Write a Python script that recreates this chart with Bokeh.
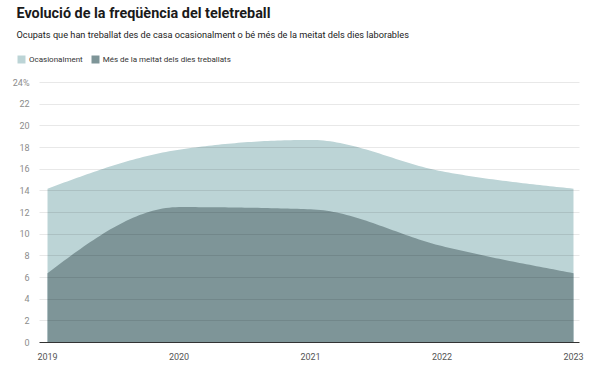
import numpy as np
from bokeh.plotting import figure
from bokeh.layouts import column, row
from bokeh.models import Legend, LegendItem, FixedTicker, Title
from bokeh.embed import file_html
from bokeh.resources import INLINE

years = [2019, 2020, 2021, 2022, 2023]
mes_meitat = [6.4, 12.5, 12.3, 8.9, 6.4]      # Més de la meitat dels dies treballats
ocasional = [7.8, 5.3, 6.4, 6.9, 7.8]          # Ocasionalment (stacked on top)
y_ticks = [0, 2, 4, 6, 8, 10, 12, 14, 16, 18, 20, 22, 24]

title = "Evolució de la freqüència del teletreball"
subtitle = "Ocupats que han treballat des de casa ocasionalment o bé més de la meitat dels dies laborables"
legend_labels = ["Ocasionalment", "Més de la meitat dels dies treballats"]

LIGHT = "#bcd4d6"
DARK = "#7e9598"
FONT = "Roboto"


def monotone(xs, ys, n=40):
    xs = np.asarray(xs, float); ys = np.asarray(ys, float)
    h = np.diff(xs); s = np.diff(ys) / h
    m = np.zeros(len(xs))
    for i in range(1, len(xs) - 1):
        p = (s[i - 1] * h[i] + s[i] * h[i - 1]) / (h[i - 1] + h[i])
        m[i] = (np.sign(s[i - 1]) + np.sign(s[i])) * min(abs(s[i - 1]), abs(s[i]), 0.5 * abs(p))
    m[0] = (3 * s[0] - m[1]) / 2
    m[-1] = (3 * s[-1] - m[-2]) / 2
    ox, oy = [], []
    for i in range(len(xs) - 1):
        t = np.linspace(0, 1, n, endpoint=(i == len(xs) - 2))
        h00 = 2 * t**3 - 3 * t**2 + 1
        h10 = t**3 - 2 * t**2 + t
        h01 = -2 * t**3 + 3 * t**2
        h11 = t**3 - t**2
        ox.extend(xs[i] + t * h[i])
        oy.extend(h00 * ys[i] + h10 * h[i] * m[i] + h01 * ys[i + 1] + h11 * h[i] * m[i + 1])
    return np.array(ox), np.array(oy)


total = [a + b for a, b in zip(mes_meitat, ocasional)]
xs_t, ys_t = monotone(years, total)
xs_d, ys_d = monotone(years, mes_meitat)

LEFT = 39
RIGHT = 16

# ---------------- header (title, subtitle, legend) ----------------
HEADER_H = 70
head = figure(width=595, height=HEADER_H, output_backend="svg", toolbar_location=None,
              x_axis_location=None, y_axis_location=None,
              x_range=(0, 1), y_range=(0, 1),
              min_border_left=0, min_border_right=0, min_border_top=0, min_border_bottom=0)
head.outline_line_color = None
head.grid.visible = False
head.background_fill_color = "white"
head.border_fill_color = "white"

# legend swatches only (placed outside the visible range)
h_light = head.varea(x=[2, 3], y1=[0, 0], y2=[1, 1], fill_color=LIGHT)
h_dark = head.varea(x=[2, 3], y1=[0, 0], y2=[1, 1], fill_color=DARK)

head.add_layout(Title(text=subtitle, text_font=FONT, text_font_size="9.2px",
                      text_font_style="normal", text_color="#222222",
                      align="left", offset=16, standoff=6), "above")
head.add_layout(Title(text=title, text_font=FONT, text_font_size="14.4px",
                      text_font_style="bold", text_color="#1a1a1a",
                      align="left", offset=16, standoff=4), "above")

legend = Legend(items=[LegendItem(label=legend_labels[0], renderers=[h_light]),
                       LegendItem(label=legend_labels[1], renderers=[h_dark])],
                orientation="horizontal", location=(16, 6),
                padding=0, margin=0, spacing=7, glyph_width=10, glyph_height=10,
                label_standoff=3, label_text_font=FONT, label_text_font_size="8px",
                label_text_color="#333333", border_line_color=None,
                background_fill_alpha=0, label_height=10)
head.add_layout(legend, "center")

# ---------------- main chart ----------------
px_per_year = 131.5
x_start = 2019 - 8 / px_per_year
x_end = 2023 + 6 / px_per_year
px_per_unit = 260 / 24.0
frame_top = 76 - HEADER_H
frame_bottom = 342 - HEADER_H
main_h = 369 - HEADER_H
y_end = (frame_bottom - frame_top) / px_per_unit

p = figure(width=595, height=main_h, output_backend="svg", toolbar_location=None,
           x_range=(x_start, x_end), y_range=(0, y_end),
           min_border_left=LEFT, min_border_right=RIGHT, min_border_top=frame_top,
           min_border_bottom=main_h - frame_bottom)
p.outline_line_color = None
p.background_fill_color = "white"
p.border_fill_color = "white"

p.varea(x=xs_t, y1=0, y2=ys_t, fill_color=LIGHT)
p.varea(x=xs_d, y1=0, y2=ys_d, fill_color=DARK)

p.xgrid.visible = False
p.ygrid.ticker = FixedTicker(ticks=y_ticks)
p.ygrid.grid_line_color = "black"
p.ygrid.grid_line_alpha = 0.09
p.ygrid.level = "overlay"

p.yaxis.ticker = FixedTicker(ticks=y_ticks)
p.yaxis.major_label_overrides = {24: "24%"}
p.yaxis.axis_line_color = None
p.yaxis.major_tick_line_color = None
p.yaxis.minor_tick_line_color = None
p.yaxis.major_label_standoff = 4
p.yaxis.major_label_text_font = FONT
p.yaxis.major_label_text_font_size = "9px"
p.yaxis.major_label_text_color = "#8c8c8c"

p.xaxis.ticker = FixedTicker(ticks=years)
p.xaxis.axis_line_color = "#333333"
p.xaxis.axis_line_width = 1
p.xaxis.major_tick_line_color = None
p.xaxis.minor_tick_line_color = None
p.xaxis.major_label_standoff = 4
p.xaxis.major_label_text_font = FONT
p.xaxis.major_label_text_font_size = "9px"
p.xaxis.major_label_text_color = "#555555"

layout = column(row(head), row(p), spacing=0)
open("out.html", "w").write(file_html(layout, INLINE))
